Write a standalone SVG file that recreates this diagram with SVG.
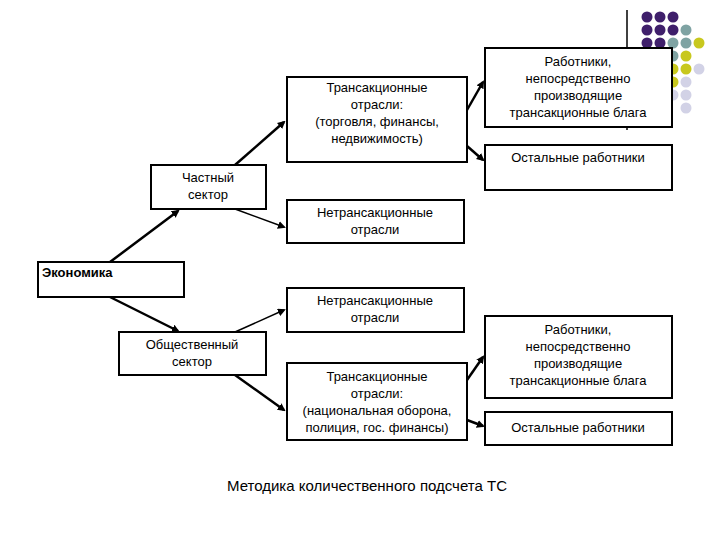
<svg xmlns="http://www.w3.org/2000/svg" width="720" height="540" viewBox="0 0 720 540">
<style>
.b{fill:#fff;stroke:#000;stroke-width:2}
text{font-family:"Liberation Sans",Arial,sans-serif;font-size:13px;text-anchor:middle;fill:#000}
.c line{stroke:#000;stroke-width:2.5;marker-end:url(#a)}
.p{fill:#3f1f6b}.t{fill:#7fa3a3}.y{fill:#c8c81e}.l{fill:#d2d2e6}
</style>
<defs><marker id="a" markerWidth="8" markerHeight="8" refX="6" refY="4" orient="auto" markerUnits="userSpaceOnUse"><path d="M0,0L8,4L0,8z"/></marker></defs>
<rect width="720" height="540" fill="#fff"/>
<g id="deco">
<line x1="627" y1="10" x2="627" y2="130" stroke="#000" stroke-width="1.5"/>
<g>
<circle class="p" cx="647" cy="17" r="5.5"/><circle class="p" cx="660" cy="17" r="5.5"/><circle class="p" cx="673" cy="17" r="5.5"/>
<circle class="p" cx="647" cy="30" r="5.5"/><circle class="p" cx="660" cy="30" r="5.5"/><circle class="p" cx="673" cy="30" r="5.5"/><circle class="t" cx="686" cy="30" r="5.5"/>
<circle class="p" cx="647" cy="43" r="5.5"/><circle class="p" cx="660" cy="43" r="5.5"/><circle class="t" cx="673" cy="43" r="5.5"/><circle class="t" cx="686" cy="43" r="5.5"/><circle class="y" cx="699" cy="43" r="5.5"/>
<circle class="t" cx="673" cy="56" r="5.5"/><circle class="y" cx="686" cy="56" r="5.5"/>
<circle class="y" cx="673" cy="69" r="5.5"/><circle class="y" cx="686" cy="69" r="5.5"/><circle class="l" cx="699" cy="69" r="5.5"/>
<circle class="y" cx="673" cy="82" r="5.5"/><circle class="l" cx="686" cy="82" r="5.5"/>
<circle class="l" cx="673" cy="95" r="5.5"/><circle class="l" cx="686" cy="95" r="5.5"/>
<circle class="l" cx="686" cy="108" r="5.5"/>
</g>
</g>
<g class="c" id="connectors">
<line x1="110" y1="262" x2="178" y2="211"/>
<line x1="110" y1="297" x2="178" y2="331"/>
<line x1="235" y1="165" x2="284" y2="122"/>
<line x1="235" y1="209" x2="284" y2="227" style="stroke-width:1.5"/>
<line x1="235" y1="332" x2="284" y2="310" style="stroke-width:1.5"/>
<line x1="235" y1="375" x2="284" y2="410"/>
<line x1="467" y1="110" x2="483" y2="82"/>
<line x1="467" y1="146" x2="483" y2="160"/>
<line x1="467" y1="380" x2="483" y2="357"/>
<line x1="467" y1="420" x2="483" y2="426"/>
</g>
<g id="tr1"><rect class="b" x="287" y="77" width="180" height="85"/><text x="377" y="92">Трансакционные</text><text x="377" y="109">отрасли:</text><text x="377" y="126">(торговля, финансы,</text><text x="377" y="143">недвижимость)</text></g>
<g id="w1"><rect class="b" x="485" y="48" width="187" height="79"/><text x="578" y="66">Работники,</text><text x="578" y="83">непосредственно</text><text x="578" y="100">производящие</text><text x="578" y="117">трансакционные блага</text></g>
<g id="o1"><rect class="b" x="485" y="145" width="187" height="45"/><text x="578" y="162">Остальные работники</text></g>
<g id="ps"><rect class="b" x="151" y="165" width="115" height="44"/><text x="208" y="182">Частный</text><text x="208" y="199">сектор</text></g>
<g id="nt1"><rect class="b" x="287" y="200" width="177" height="43"/><text x="375" y="217">Нетрансакционные</text><text x="375" y="234">отрасли</text></g>
<g id="ec"><rect class="b" x="38" y="262" width="146" height="35"/><text x="42" y="277" style="font-weight:bold;text-anchor:start">Экономика</text></g>
<g id="nt2"><rect class="b" x="287" y="288" width="177" height="44"/><text x="375" y="305">Нетрансакционные</text><text x="375" y="322">отрасли</text></g>
<g id="gs"><rect class="b" x="119" y="332" width="147" height="43"/><text x="192" y="349">Общественный</text><text x="192" y="366">сектор</text></g>
<g id="tr2"><rect class="b" x="287" y="363" width="180" height="77"/><text x="377" y="381">Трансакционные</text><text x="377" y="398">отрасли:</text><text x="377" y="415">(национальная оборона,</text><text x="377" y="432">полиция, гос. финансы)</text></g>
<g id="w2"><rect class="b" x="485" y="316" width="187" height="82"/><text x="578" y="334">Работники,</text><text x="578" y="351">непосредственно</text><text x="578" y="368">производящие</text><text x="578" y="385">трансакционные блага</text></g>
<g id="o2"><rect class="b" x="485" y="412" width="187" height="33"/><text x="578" y="432">Остальные работники</text></g>
<text x="367" y="491" style="font-size:15px">Методика количественного подсчета ТС</text>
</svg>
